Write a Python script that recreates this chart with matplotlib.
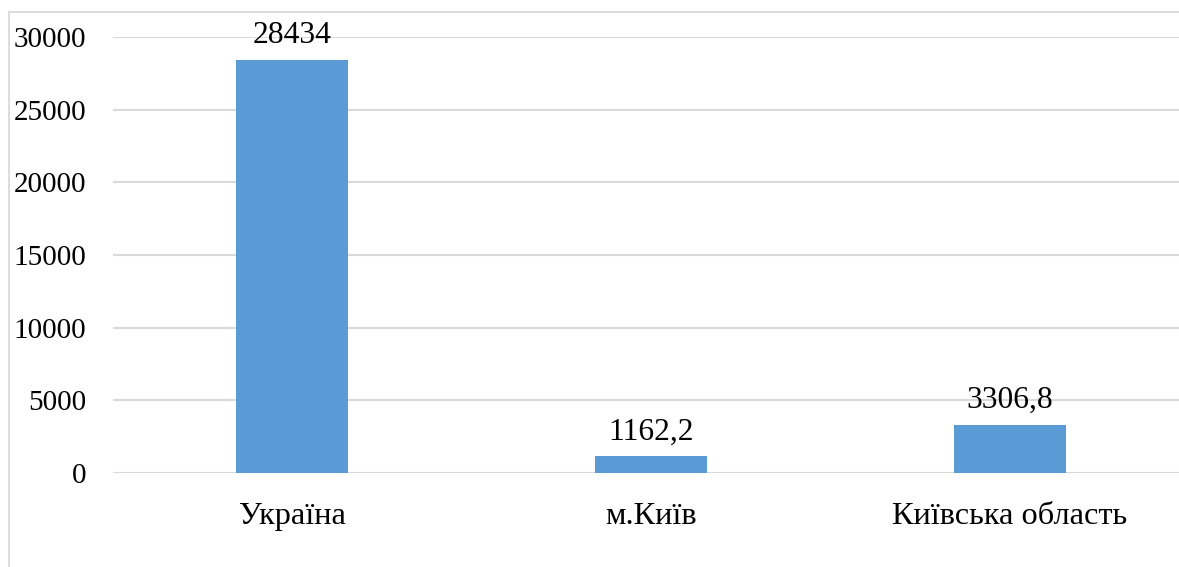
import numpy as np
import matplotlib.pyplot as plt
from matplotlib.patches import Rectangle

regions = ['Україна', 'м.Київ', 'Київська область']
values = [28434, 1162.2, 3306.8]
value_labels = ['28434', '1162,2', '3306,8']
yticks = [0, 5000, 10000, 15000, 20000, 25000, 30000]

plt.rcParams['font.family'] = ['Liberation Serif', 'DejaVu Serif']

fig = plt.figure(figsize=(11.79, 5.67), dpi=100)
ax = fig.add_axes([112.5/1179, 94/567, 1077/1179, 436/567])

# chart frame (cropped on the right and bottom)
fig.patches.append(Rectangle((9/1179, -0.05), 1.2, 1.05 - 12/567,
                             transform=fig.transFigure, fill=False,
                             edgecolor='#D9D9D9', linewidth=1.3))

x = np.arange(len(regions))
bars = ax.bar(x, values, width=0.312, color='#5B9BD5', zorder=3)

for b, lab in zip(bars, value_labels):
    ax.annotate(lab, (b.get_x() + b.get_width()/2, b.get_height()),
                xytext=(0, 7), textcoords='offset points',
                ha='center', va='bottom', fontsize=22.7)

ax.set_xlim(-0.5, 2.5)
ax.set_ylim(0, 30000)
ax.set_yticks(yticks)
ax.set_yticklabels([str(t) for t in yticks], fontsize=21)
ax.set_xticks(x)
ax.set_xticklabels(regions, fontsize=23.3)
ax.tick_params(axis='both', length=0)
ax.tick_params(axis='y', pad=19)
ax.tick_params(axis='x', pad=21)
ax.grid(axis='y', color='#D9D9D9', linewidth=1.5, zorder=0)
for s in ax.spines.values():
    s.set_visible(False)

plt.savefig('out.png', dpi=100)
